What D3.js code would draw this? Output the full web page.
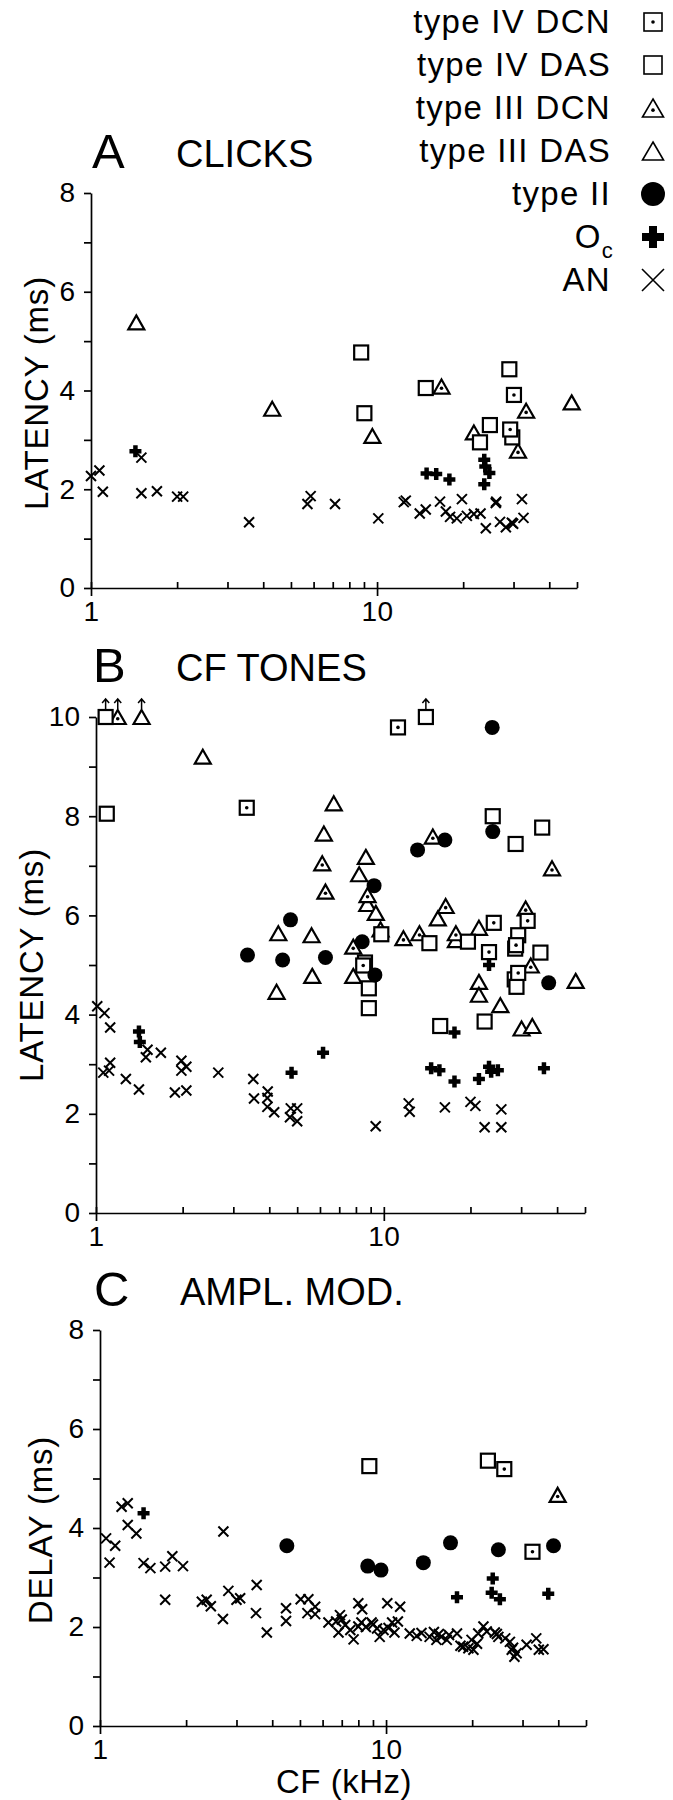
<!DOCTYPE html>
<html>
<head>
<meta charset="utf-8">
<script src="https://cdn.jsdelivr.net/npm/d3@7"></script>
<style>
  body { margin: 0; background: #fff; }
  text { font-family: "Liberation Sans", Arial, Helvetica, sans-serif; fill: #000; }
</style>
</head>
<body>
<div id="chart"></div>
<script>
// ---- data: [CF (kHz), latency/delay (ms)] ----
// A: clicks
const clicksIVDCN = [[30.1, 3.91], [29.2, 3.21]];
const clicksIVDAS = [[8.8, 4.77], [9.03, 3.54], [14.8, 4.05], [24.8, 3.30], [22.9, 2.95], [29.0, 4.43], [29.7, 3.05]];
const clicksIIIDCN = [[16.8, 4.08], [33.2, 3.59], [31.1, 2.78]];
const clicksIIIDAS = [[1.44, 5.38], [4.3, 3.63], [9.63, 3.08], [21.8, 3.15], [47.9, 3.76]];
const clicksII = [];
const clicksOc = [[1.43, 2.77], [14.9, 2.32], [16.1, 2.31], [17.9, 2.20], [23.7, 2.60], [23.9, 2.46], [24.7, 2.33], [23.7, 2.10]];
const clicksAN = [[1.0, 2.27], [1.07, 2.38], [1.10, 1.95], [1.50, 2.64], [1.50, 1.92], [1.70, 1.96], [2.0, 1.85], [2.10, 1.85],
  [3.57, 1.33], [5.71, 1.70], [5.86, 1.86], [7.13, 1.70], [10.1, 1.41], [12.6, 1.77], [12.4, 1.74], [14.1, 1.51], [14.8, 1.59],
  [16.6, 1.75], [17.4, 1.55], [18.0, 1.44], [19.0, 1.41], [19.8, 1.80], [20.6, 1.46], [21.8, 1.50], [23.0, 1.51], [24.0, 1.21],
  [26.1, 1.75], [26.0, 1.72], [26.9, 1.34], [28.2, 1.23], [29.6, 1.32], [29.9, 1.30], [32.1, 1.80], [32.5, 1.42]];

// B: CF tones
const tonesIVDCN = [[3.34, 8.17], [11.2, 9.79], [8.48, 4.99], [24.1, 5.85], [23.2, 5.26], [31.6, 5.89], [28.8, 5.40], [29.3, 4.84]];
const tonesIVDAS = [[1.08, 10.0], [1.09, 8.05], [14.0, 10.0], [23.9, 8.00], [35.5, 7.77], [28.7, 7.44], [9.8, 5.62], [8.6, 5.05],
  [8.87, 4.53], [8.87, 4.13], [14.4, 5.44], [19.6, 5.47], [22.4, 3.86], [15.7, 3.77], [29.3, 5.60], [28.6, 5.33], [35.0, 5.25],
  [28.5, 4.71], [28.9, 4.56]];
const tonesIIIDCN = [[1.19, 10.0], [6.11, 7.05], [6.27, 6.48], [14.8, 7.59], [38.4, 6.95], [8.78, 6.41], [9.74, 5.72], [7.83, 5.37],
  [11.7, 5.54], [13.3, 5.64], [16.4, 6.19], [17.8, 5.64], [31.1, 6.14], [32.4, 4.99]];
const tonesIIIDAS = [[1.44, 10.0], [2.35, 9.20], [6.7, 8.26], [6.19, 7.65], [4.30, 5.64], [4.24, 4.46], [5.61, 5.60], [5.64, 4.78],
  [8.66, 7.18], [8.21, 6.83], [8.76, 6.23], [9.38, 6.05], [7.83, 4.78], [15.4, 5.94], [17.8, 5.50], [21.4, 5.75], [21.4, 4.66],
  [21.4, 4.40], [25.4, 4.19], [46.4, 4.68], [30.1, 3.72], [32.8, 3.77]];
const tonesII = [[3.36, 5.20], [4.74, 5.91], [4.45, 5.10], [6.27, 5.15], [23.8, 9.79], [23.9, 7.69], [16.3, 7.52], [13.1, 7.32],
  [9.25, 6.60], [8.41, 5.47], [9.31, 4.80], [37.4, 4.64]];
const tonesOc = [[1.41, 3.66], [1.42, 3.45], [4.78, 2.83], [6.15, 3.23], [23.2, 5.00], [17.6, 3.64], [14.6, 2.92], [15.6, 2.88],
  [17.6, 2.65], [21.4, 2.70], [23.2, 2.95], [23.6, 2.85], [24.9, 2.88], [36.0, 2.92]];
const tonesAN = [[1.01, 4.17], [1.07, 4.03], [1.12, 3.74], [1.06, 2.83], [1.11, 2.87], [1.12, 3.03], [1.27, 2.70], [1.41, 2.49],
  [1.51, 3.29], [1.49, 3.14], [1.68, 3.23], [1.98, 3.07], [1.98, 2.87], [2.06, 2.95], [1.88, 2.43], [2.06, 2.47], [2.66, 2.83],
  [3.52, 2.70], [3.54, 2.31], [3.95, 2.45], [3.94, 2.32], [3.94, 2.14], [4.16, 2.03], [4.72, 1.93], [4.75, 2.11], [5.0, 2.11],
  [5.0, 1.85], [9.37, 1.75], [12.2, 2.21], [12.3, 2.04], [16.3, 2.13], [20.0, 2.24], [20.8, 2.16], [25.6, 2.09], [22.4, 1.73],
  [25.6, 1.73]];
// CFs whose tone latency is off scale (drawn at 10 with an up arrow)
const tonesOffScale = [1.08, 1.19, 1.44, 14.0];

// C: amplitude modulation
const amIVDCN = [[25.9, 5.19], [32.5, 3.52]];
const amIVDAS = [[8.74, 5.25], [22.7, 5.36]];
const amIIIDCN = [[39.8, 4.67]];
const amIIIDAS = [];
const amII = [[4.50, 3.64], [16.8, 3.70], [24.7, 3.56], [38.5, 3.64], [13.5, 3.30], [8.63, 3.23], [9.6, 3.15]];
const amOc = [[1.42, 4.30], [23.6, 2.98], [17.7, 2.60], [23.4, 2.69], [25.0, 2.56], [36.9, 2.67]];
const amAN = [[1.05, 3.79], [1.08, 3.30], [1.13, 3.64], [1.19, 4.43], [1.25, 4.50], [1.25, 4.06], [1.34, 3.89], [1.42, 3.29],
  [1.50, 3.19], [1.69, 3.22], [1.79, 3.43], [1.95, 3.23], [1.69, 2.55], [2.27, 2.51], [2.36, 2.55], [2.44, 2.42], [2.70, 3.93],
  [2.81, 2.73], [2.69, 2.16], [3.0, 2.55], [3.09, 2.58], [3.53, 2.85], [3.51, 2.28], [3.83, 1.89], [4.47, 2.38], [4.47, 2.12],
  [5.03, 2.56], [5.35, 2.56], [5.31, 2.28], [5.65, 2.41], [5.65, 2.26], [6.29, 2.09], [6.69, 2.11], [6.82, 1.89],
  [6.9, 2.24], [7.2, 2.04], [7.5, 1.94], [7.7, 1.75], [8.0, 2.48], [8.25, 2.36], [8.2, 2.09], [8.0, 2.01], [8.9, 2.09],
  [9.3, 1.97], [9.5, 1.80], [9.8, 1.94], [10.1, 2.48], [11.2, 2.41], [10.5, 2.09], [11.0, 2.11], [10.7, 1.89], [12.1, 1.87],
  [12.8, 1.82], [14.2, 1.80], [14.7, 1.90], [15.0, 1.74], [15.6, 1.80], [16.3, 1.74], [16.6, 1.84], [17.7, 1.87], [18.6, 1.60],
  [19.4, 1.57], [19.9, 1.74], [20.2, 1.54], [21.0, 1.87], [21.9, 2.01], [22.5, 1.91], [24.0, 1.89], [24.7, 1.80], [26.1, 1.77],
  [27.1, 1.70], [27.5, 1.54], [28.1, 1.40], [28.6, 1.47], [31.0, 1.64], [33.5, 1.77], [34.2, 1.54], [35.5, 1.55],
  [7.0, 2.15], [8.5, 2.00], [9.0, 2.05], [10.2, 1.98], [13.3, 1.88], [15.3, 1.86], [18.2, 1.62], [20.8, 1.66], [24.4, 1.86],
  [27.8, 1.58]];

const legendLabels = ["type IV DCN", "type IV DAS", "type III DCN", "type III DAS", "type II", "O", "AN"];
const legendTypes = ["IVDCN", "IVDAS", "IIIDCN", "IIIDAS", "II", "Oc", "AN"];
const xTicks = [1, 2, 3, 4, 5, 6, 7, 8, 9, 10, 20, 30, 40, 50];

// ---- drawing ----
const svg = d3.select("#chart").append("svg")
  .attr("width", 673).attr("height", 1800);
svg.append("rect").attr("width", 673).attr("height", 1800).attr("fill", "#fff");

// one marker, centred on (cx, cy); big = legend size
function marker(g, type, cx, cy, big) {
  const m = g.append("g").attr("transform", `translate(${cx},${cy})`);
  if (type === "IVDCN" || type === "IVDAS") {
    const a = big ? 18 : 14;
    m.append("rect").attr("x", -a / 2).attr("y", -a / 2).attr("width", a).attr("height", a)
      .attr("fill", "#fff").attr("stroke", "#000").attr("stroke-width", big ? 1.6 : 2.2);
    if (type === "IVDCN") m.append("circle").attr("r", 1.8).attr("fill", "#000");
  } else if (type === "IIIDCN" || type === "IIIDAS") {
    const w = big ? 21 : 16, h = big ? 18 : 14;
    m.append("path").attr("d", `M0,${-h / 2}L${w / 2},${h / 2}L${-w / 2},${h / 2}Z`)
      .attr("fill", "#fff").attr("stroke", "#000").attr("stroke-width", big ? 1.6 : 2.2);
    if (type === "IIIDCN") m.append("circle").attr("cy", h * 0.12).attr("r", 1.8).attr("fill", "#000");
  } else if (type === "II") {
    m.append("circle").attr("r", big ? 12 : 7.5).attr("fill", "#000");
  } else if (type === "Oc") {
    const s = big ? 11 : 6, t = big ? 8 : 4.5;
    m.append("path").attr("d", `M${-s},0H${s}M0,${-s}V${s}`)
      .attr("stroke", "#000").attr("stroke-width", t);
  } else if (type === "AN") {
    const s = big ? 11 : 5;
    m.append("path").attr("d", `M${-s},${-s}L${s},${s}M${-s},${s}L${s},${-s}`)
      .attr("stroke", "#000").attr("stroke-width", big ? 1.6 : 2).attr("fill", "none");
  }
}

function drawPanel(cfg, series) {
  const x = d3.scaleLog().domain([1, 50]).range([cfg.left, cfg.right]);
  const y = d3.scaleLinear().domain([0, cfg.ymax]).range([cfg.bottom, cfg.top]);
  const g = svg.append("g");

  // y axis
  g.append("g")
    .attr("transform", `translate(${cfg.left},0)`)
    .call(d3.axisLeft(y).tickValues(d3.range(0, cfg.ymax + 1))
      .tickFormat(d => d % 2 === 0 ? d : "")
      .tickSizeInner(7).tickSizeOuter(0).tickPadding(9))
    .call(a => a.selectAll("text").attr("font-size", 28).attr("font-family", null))
    .call(a => a.selectAll("line,path").attr("stroke-width", 1.7));

  // x axis, minor ticks point inward
  const xa = g.append("g")
    .attr("transform", `translate(0,${cfg.bottom})`)
    .call(d3.axisBottom(x).tickValues(xTicks)
      .tickFormat(d => (d === 1 || d === 10) ? d : "")
      .tickSizeInner(-6).tickSizeOuter(0))
    .call(a => a.selectAll("text").attr("font-size", 28).attr("font-family", null)
      .attr("y", 33).attr("dy", 0).attr("letter-spacing", 0.5))
    .call(a => a.selectAll("line,path").attr("stroke-width", 1.7));
  xa.selectAll(".tick").filter(d => d === 1 || d === 10)
    .append("line").attr("y2", 8).attr("stroke", "#000").attr("stroke-width", 1.7);
  g.selectAll(".domain").attr("stroke", "#000");

  // titles
  g.append("text").attr("x", cfg.letterX).attr("y", cfg.titleY + 1)
    .attr("font-size", 49).text(cfg.letter);
  g.append("text").attr("x", cfg.nameX).attr("y", cfg.titleY)
    .attr("font-size", 38).text(cfg.name);
  g.append("text")
    .attr("transform", `translate(${cfg.ylabX},${cfg.ylabY}) rotate(-90)`)
    .attr("text-anchor", "middle").attr("font-size", 33).attr("letter-spacing", 0.8)
    .text(cfg.ylabel);

  // marks
  series.forEach(s => {
    s.pts.forEach(p => marker(g, s.type, x(p[0]), y(Math.min(p[1], cfg.ymax)), false));
  });

  if (cfg.offScale) {
    cfg.offScale.forEach(cf => {
      const px = x(cf), py = y(cfg.ymax);
      g.append("path")
        .attr("d", `M${px},${py - 8}V${py - 18}M${px - 3.5},${py - 14}L${px},${py - 18}L${px + 3.5},${py - 14}`)
        .attr("stroke", "#000").attr("stroke-width", 1.5).attr("fill", "none");
    });
  }
  return x;
}

function seriesOf(ivdcn, ivdas, iiidcn, iiidas, ii, oc, an) {
  // draw AN first so that unit symbols sit on top
  return [
    {type: "AN", pts: an}, {type: "Oc", pts: oc}, {type: "IIIDAS", pts: iiidas},
    {type: "IIIDCN", pts: iiidcn}, {type: "IVDAS", pts: ivdas}, {type: "IVDCN", pts: ivdcn},
    {type: "II", pts: ii}
  ];
}

drawPanel({letter: "A", name: "CLICKS", letterX: 92, nameX: 176, titleY: 167,
  left: 91, right: 577, top: 193, bottom: 588, ymax: 8,
  ylabel: "LATENCY (ms)", ylabX: 48, ylabY: 393},
  seriesOf(clicksIVDCN, clicksIVDAS, clicksIIIDCN, clicksIIIDAS, clicksII, clicksOc, clicksAN));

drawPanel({letter: "B", name: "CF TONES", letterX: 93, nameX: 176, titleY: 681,
  left: 96, right: 585, top: 717, bottom: 1213, ymax: 10,
  ylabel: "LATENCY (ms)", ylabX: 43, ylabY: 965, offScale: tonesOffScale},
  seriesOf(tonesIVDCN, tonesIVDAS, tonesIIIDCN, tonesIIIDAS, tonesII, tonesOc, tonesAN));

drawPanel({letter: "C", name: "AMPL. MOD.", letterX: 94, nameX: 180, titleY: 1305,
  left: 100, right: 586, top: 1330, bottom: 1726, ymax: 8,
  ylabel: "DELAY (ms)", ylabX: 52, ylabY: 1530},
  seriesOf(amIVDCN, amIVDAS, amIIIDCN, amIIIDAS, amII, amOc, amAN));

svg.append("text").attr("x", 344).attr("y", 1793).attr("text-anchor", "middle")
  .attr("font-size", 33).attr("letter-spacing", 0.5).text("CF (kHz)");

// legend, top right
const leg = svg.append("g");
legendLabels.forEach((lab, i) => {
  const cy = 22 + i * 43;
  const t = leg.append("text").attr("x", 611).attr("y", cy + 11)
    .attr("text-anchor", "end").attr("font-size", 33).attr("letter-spacing", 1.3);
  if (legendTypes[i] === "Oc") {
    t.attr("x", 614);
    t.append("tspan").text(lab);
    t.append("tspan").attr("font-size", 22).attr("dy", 10).text("c");
  } else {
    t.text(lab);
  }
  marker(leg, legendTypes[i], 653, cy, true);
});
</script>
</body>
</html>
